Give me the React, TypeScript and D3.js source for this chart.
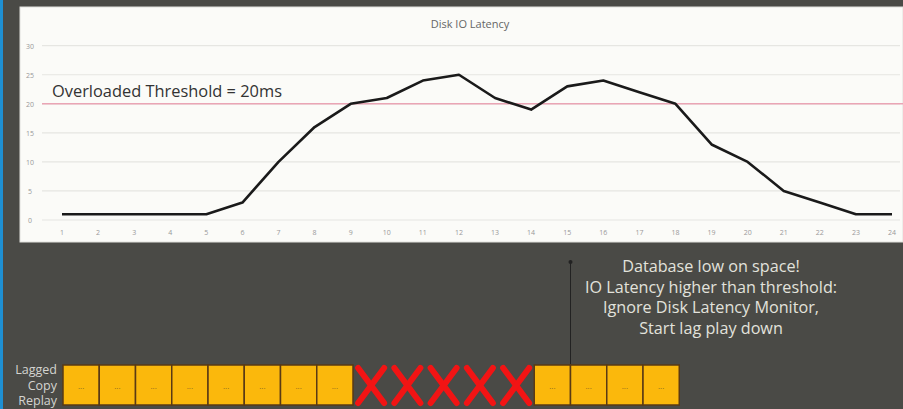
import React from "react";
import * as d3 from "d3";

// hourly disk IO latency (ms)
const hours = d3.range(1, 25);
const latency = [1, 1, 1, 1, 1, 3, 10, 16, 20, 21, 24, 25, 21, 19, 23, 24, 22, 20, 13, 10, 5, 3, 1, 1];
const yTicks = [0, 5, 10, 15, 20, 25, 30];
const threshold = 20;

// lagged copy replay slots: true = replayed, false = blocked
const replay = [true, true, true, true, true, true, true, true, false, false, false, false, false, true, true, true, true];
const noteLines = [
  "Database low on space!",
  "IO Latency higher than threshold:",
  "Ignore Disk Latency Monitor,",
  "Start lag play down",
];
const replayLabel = ["Lagged", "Copy", "Replay"];

const W = 903;
const H = 409;
const font = "'Open Sans', 'Noto Sans', sans-serif";

export default function App() {
  const x = d3.scalePoint<number>().domain(hours).range([62, 892]);
  const y = d3.scaleLinear().domain([0, 30]).range([220, 45.7]);
  const slot = d3.scaleLinear().domain([0, replay.length]).range([63, 63 + replay.length * 36.25]);

  const line = d3
    .line<number>()
    .x((d, i) => x(hours[i]) as number)
    .y((d) => y(d));

  const noteX = slot(14);

  return (
    <svg
      width={W}
      height={H}
      style={{ position: "absolute", left: 0, top: 0, background: "#4a4a46" }}
      fontFamily={font}
    >
      <rect x={0} y={0} width={3} height={H} fill="#1e8fd2" />
      {/* chart panel */}
      <rect x={20} y={7} width={W - 20} height={235} fill="#fbfbf8" stroke="#e0e0dc" />
      <text x={470} y={28} textAnchor="middle" fontSize={11} fill="#666">
        Disk IO Latency
      </text>

      {yTicks.map((t) => (
        <g key={t}>
          <line x1={42} x2={900} y1={y(t)} y2={y(t)} stroke="#e6e6e2" strokeWidth={1.2} />
          <text x={30} y={y(t) + 3} textAnchor="middle" fontSize={7} fill="#999">
            {t}
          </text>
        </g>
      ))}
      {hours.map((h) => (
        <text key={h} x={x(h)} y={235} textAnchor="middle" fontSize={7} fill="#999">
          {h}
        </text>
      ))}

      <line x1={42} x2={903} y1={y(threshold)} y2={y(threshold)} stroke="#eaa5b5" strokeWidth={1.5} />
      <text x={52} y={97} fontSize={16.4} fill="#333">
        Overloaded Threshold = 20ms
      </text>

      <path d={line(latency) ?? ""} fill="none" stroke="#1a1a1a" strokeWidth={2.6} strokeLinejoin="round" />

      {/* annotation */}
      <line x1={noteX} x2={noteX} y1={262} y2={364} stroke="#222" strokeWidth={1} />
      <circle cx={noteX} cy={262} r={2} fill="#222" />
      {noteLines.map((s, i) => (
        <text key={i} x={711} y={272 + i * 20.7} textAnchor="middle" fontSize={16.2} fill="#e2e2dc">
          {s}
        </text>
      ))}

      {/* replay row */}
      {replayLabel.map((s, i) => (
        <text key={s} x={57} y={374 + i * 15.5} textAnchor="end" fontSize={12.5} fill="#d4d4d0">
          {s}
        </text>
      ))}
      {replay.map((ok, i) => {
        const x0 = slot(i);
        const x1 = slot(i + 1);
        const cx = (x0 + x1) / 2;
        if (ok) {
          return (
            <g key={i}>
              <rect x={x0} y={365} width={x1 - x0} height={40} fill="#fbb80c" stroke="#5a3a14" strokeWidth={1.5} />
              <text x={cx} y={389} textAnchor="middle" fontSize={8} fill="#8a6a20">
                ...
              </text>
            </g>
          );
        }
        return (
          <g key={i} stroke="#f21414" strokeWidth={6} strokeLinecap="round">
            <line x1={cx - 13} x2={cx + 13} y1={368} y2={403} />
            <line x1={cx + 13} x2={cx - 13} y1={368} y2={403} />
          </g>
        );
      })}
    </svg>
  );
}
